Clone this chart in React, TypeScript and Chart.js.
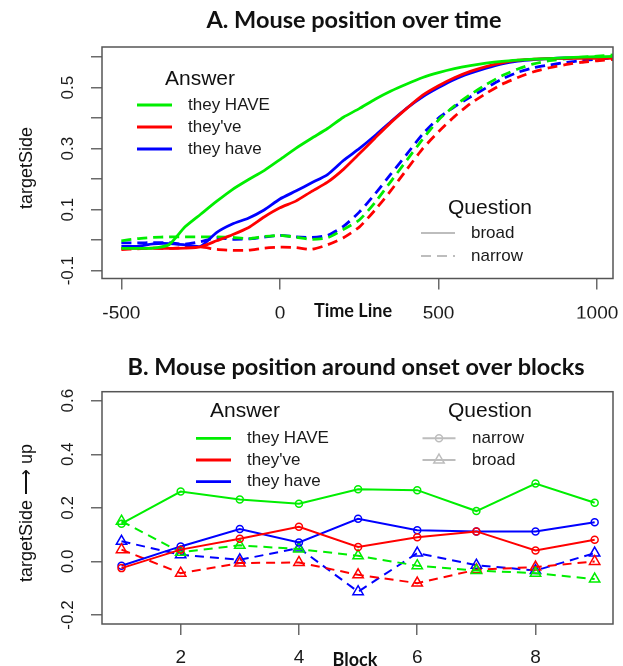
import { useEffect, useRef } from 'react';
import { Chart, registerables } from 'chart.js';

Chart.register(...registerables);

// ---------- Panel A data ----------
const timeMs = [-500, -450, -400, -350, -300, -250, -200, -150, -100, -50, 0, 50, 100, 150, 200, 250, 300, 350, 400, 450, 500, 550, 600, 650, 700, 750, 800, 850, 900, 950, 1000, 1050];
const haveBroadA = [-0.027, -0.027, -0.026, -0.015, 0.043, 0.085, 0.127, 0.166, 0.198, 0.228, 0.264, 0.301, 0.334, 0.366, 0.403, 0.431, 0.462, 0.489, 0.512, 0.533, 0.549, 0.562, 0.572, 0.58, 0.586, 0.59, 0.593, 0.595, 0.598, 0.6, 0.601, 0.602];
const contrBroadA = [-0.027, -0.027, -0.026, -0.027, -0.026, -0.022, -0.002, 0.018, 0.041, 0.076, 0.106, 0.128, 0.16, 0.19, 0.232, 0.283, 0.335, 0.386, 0.432, 0.475, 0.506, 0.532, 0.553, 0.569, 0.581, 0.59, 0.593, 0.595, 0.596, 0.596, 0.596, 0.596];
const plainBroadA = [-0.02, -0.02, -0.012, -0.011, -0.015, -0.02, 0.025, 0.053, 0.072, 0.099, 0.135, 0.161, 0.188, 0.215, 0.261, 0.3, 0.343, 0.389, 0.433, 0.47, 0.5, 0.527, 0.547, 0.564, 0.578, 0.587, 0.592, 0.595, 0.597, 0.598, 0.599, 0.599];
const haveNarrowA = [-0.002, 0.005, 0.009, 0.011, 0.011, 0.011, 0.011, 0.009, 0.005, 0.012, 0.016, 0.01, 0.003, 0.008, 0.035, 0.066, 0.124, 0.193, 0.262, 0.331, 0.394, 0.44, 0.477, 0.51, 0.539, 0.561, 0.578, 0.588, 0.594, 0.6, 0.603, 0.607];
const contrNarrowA = [-0.031, -0.028, -0.026, -0.027, -0.024, -0.022, -0.03, -0.033, -0.033, -0.026, -0.023, -0.024, -0.03, -0.015, 0.008, 0.043, 0.099, 0.163, 0.232, 0.3, 0.355, 0.405, 0.447, 0.481, 0.511, 0.533, 0.552, 0.565, 0.575, 0.583, 0.588, 0.592];
const plainNarrowA = [-0.009, -0.009, -0.008, -0.008, -0.013, -0.005, 0.008, 0.003, 0.004, 0.01, 0.016, 0.011, 0.009, 0.016, 0.045, 0.092, 0.152, 0.217, 0.282, 0.348, 0.4, 0.437, 0.469, 0.499, 0.528, 0.55, 0.565, 0.574, 0.582, 0.588, 0.593, 0.597];
const xTicksA = [-500, 0, 500, 1000];
const yTicksA = [-0.1, 0, 0.1, 0.2, 0.3, 0.4, 0.5, 0.6];
const yLabelledA = [-0.1, 0.1, 0.3, 0.5];

// ---------- Panel B data ----------
const blocks = [1, 2, 3, 4, 5, 6, 7, 8, 9];
const haveNarrowB = [0.141, 0.261, 0.231, 0.215, 0.269, 0.266, 0.188, 0.291, 0.219];
const contrNarrowB = [-0.025, 0.044, 0.085, 0.129, 0.054, 0.09, 0.112, 0.041, 0.081];
const plainNarrowB = [-0.016, 0.056, 0.121, 0.071, 0.159, 0.116, 0.112, 0.112, 0.146];
const haveBroadB = [0.15, 0.034, 0.06, 0.046, 0.021, -0.016, -0.034, -0.044, -0.066];
const contrBroadB = [0.044, -0.044, -0.006, -0.004, -0.05, -0.081, -0.031, -0.021, 0.0];
const plainBroadB = [0.075, 0.025, 0.006, 0.05, -0.113, 0.031, -0.014, -0.034, 0.031];
const xTicksB = [2, 4, 6, 8];
const yTicksB = [-0.2, 0, 0.2, 0.4, 0.6];

// ---------- labels ----------
const answerLabels = ['they HAVE', "they've", 'they have'];
const answerColors = ['#00ee00', '#ff0000', '#0000ff'];
const questionLabelsA = ['broad', 'narrow'];
const questionLabelsB = ['narrow', 'broad'];

const SANS = "'Liberation Sans', Arial, sans-serif";
const TITLE = "Lato, 'Open Sans', sans-serif";
const GREY = '#bdbdbd';

type TextItem = { text: string; x: number; y: number; font: string; align?: CanvasTextAlign; rotate?: boolean };
type LegendRow = { y: number; x1: number; x2: number; color: string; width: number; dash?: number[]; marker?: 'circle' | 'triangle'; label: string; tx: number };

function drawMarker(ctx: CanvasRenderingContext2D, kind: string, x: number, y: number) {
  ctx.beginPath();
  if (kind === 'circle') {
    ctx.arc(x, y, 3.5, 0, Math.PI * 2);
  } else {
    const r = 6;
    ctx.moveTo(x, y - r);
    ctx.lineTo(x + r * 0.866, y + r / 2);
    ctx.lineTo(x - r * 0.866, y + r / 2);
    ctx.closePath();
  }
  ctx.stroke();
}

function decor(texts: TextItem[], rows: LegendRow[]) {
  return {
    id: 'decor',
    afterDraw(chart: any) {
      const { ctx, chartArea: a } = chart;
      ctx.save();
      ctx.setLineDash([]);
      ctx.strokeStyle = '#555';
      ctx.lineWidth = 1.5;
      ctx.strokeRect(a.left, a.top, a.right - a.left, a.bottom - a.top);
      for (const r of rows) {
        ctx.strokeStyle = r.color;
        ctx.lineWidth = r.width;
        ctx.setLineDash(r.dash || []);
        ctx.beginPath();
        ctx.moveTo(r.x1, r.y);
        ctx.lineTo(r.x2, r.y);
        ctx.stroke();
        ctx.setLineDash([]);
        if (r.marker) {
          ctx.lineWidth = 1.5;
          drawMarker(ctx, r.marker, (r.x1 + r.x2) / 2, r.y);
        }
        ctx.fillStyle = '#1a1a1a';
        ctx.font = `17px ${SANS}`;
        ctx.textAlign = 'left';
        ctx.textBaseline = 'middle';
        ctx.fillText(r.label, r.tx, r.y);
      }
      for (const t of texts) {
        ctx.save();
        ctx.fillStyle = '#111';
        ctx.font = t.font;
        ctx.textAlign = t.align || 'center';
        ctx.textBaseline = 'middle';
        ctx.translate(t.x, t.y);
        if (t.rotate) ctx.rotate(-Math.PI / 2);
        ctx.fillText(t.text, 0, 0);
        ctx.restore();
      }
      ctx.restore();
    },
  };
}

function axisCommon(tickValues: number[], size: number, font: number, padding: number, cb: (v: number) => string, vertical: boolean) {
  return {
    type: 'linear' as const,
    afterBuildTicks: (s: any) => {
      s.ticks = tickValues.map((v) => ({ value: v }));
    },
    afterFit: (s: any) => {
      if (vertical) {
        s.width = size;
        s.paddingTop = 0;
        s.paddingBottom = 0;
      } else {
        s.height = size;
        s.paddingLeft = 0;
        s.paddingRight = 0;
      }
    },
    border: { display: false },
    grid: { display: true, drawOnChartArea: false, drawTicks: true, tickLength: 11, color: '#6a6a6a', lineWidth: 1.5 },
    ticks: {
      autoSkip: false,
      font: { family: SANS, size: font },
      color: '#1a1a1a',
      padding,
      callback: (v: any) => cb(Number(v)),
      ...(vertical ? { minRotation: 90, maxRotation: 90, crossAlign: 'center' as const } : { minRotation: 0, maxRotation: 0 }),
    },
  };
}

function buildTop(canvas: HTMLCanvasElement) {
  const series = [
    { data: haveBroadA, c: 0, dash: false },
    { data: contrBroadA, c: 1, dash: false },
    { data: plainBroadA, c: 2, dash: false },
    { data: haveNarrowA, c: 0, dash: true },
    { data: contrNarrowA, c: 1, dash: true },
    { data: plainNarrowA, c: 2, dash: true },
  ];
  const texts: TextItem[] = [
    { text: 'A. Mouse position over time', x: 354, y: 20, font: `bold 23.5px ${TITLE}` },
    { text: 'Time Line', x: 353, y: 311, font: `bold 18px ${TITLE}` },
    { text: 'targetSide', x: 27, y: 168, font: `18px ${SANS}`, rotate: true },
    { text: 'Answer', x: 200, y: 79, font: `21px ${SANS}` },
    { text: 'Question', x: 490, y: 208, font: `21px ${SANS}` },
  ];
  const rowsY = [105, 127, 149];
  const rows: LegendRow[] = answerLabels.map((l, i) => ({ y: rowsY[i], x1: 137, x2: 172, color: answerColors[i], width: 2.8, label: l, tx: 188 }));
  rows.push({ y: 233, x1: 421, x2: 455, color: GREY, width: 2, label: questionLabelsA[0], tx: 471 });
  rows.push({ y: 256, x1: 421, x2: 455, color: GREY, width: 2, dash: [10, 6], label: questionLabelsA[1], tx: 471 });

  return new Chart(canvas, {
    type: 'line',
    data: {
      datasets: series.map((s) => ({
        data: timeMs.map((t, i) => ({ x: t, y: s.data[i] })),
        borderColor: answerColors[s.c],
        borderWidth: 2.8,
        borderDash: s.dash ? [10, 6] : [],
        pointRadius: 0,
        tension: 0.2,
        fill: false,
      })),
    },
    options: {
      animation: false,
      responsive: false,
      devicePixelRatio: 1,
      layout: { autoPadding: false, padding: { top: 47, right: 10, left: 0, bottom: 16.5 } },
      plugins: { legend: { display: false }, tooltip: { enabled: false }, title: { display: false } },
      scales: {
        x: { ...axisCommon(xTicksA, 40, 19, 13, (v) => String(v), false), min: -561, max: 1050 },
        y: { ...axisCommon(yTicksA, 102, 17, 8, (v) => (yLabelledA.includes(v) ? v.toFixed(1) : ''), true), min: -0.1255, max: 0.633 },
      },
    } as any,
    plugins: [decor(texts, rows)],
  });
}

function buildBottom(canvas: HTMLCanvasElement) {
  const series = [
    { data: haveNarrowB, c: 0, dash: false },
    { data: contrNarrowB, c: 1, dash: false },
    { data: plainNarrowB, c: 2, dash: false },
    { data: haveBroadB, c: 0, dash: true },
    { data: contrBroadB, c: 1, dash: true },
    { data: plainBroadB, c: 2, dash: true },
  ];
  const texts: TextItem[] = [
    { text: 'B. Mouse position around onset over blocks', x: 356, y: 32.3, font: `bold 23.5px ${TITLE}` },
    { text: 'Block', x: 355, y: 325, font: `bold 18px ${TITLE}` },
    { text: 'targetSide \u27F6 up', x: 27, y: 178, font: `18px ${SANS}`, rotate: true },
    { text: 'Answer', x: 245, y: 76.7, font: `21px ${SANS}` },
    { text: 'Question', x: 490, y: 76.7, font: `21px ${SANS}` },
  ];
  const rowsY = [103.3, 125, 146.7];
  const rows: LegendRow[] = answerLabels.map((l, i) => ({ y: rowsY[i], x1: 196, x2: 231, color: answerColors[i], width: 2.8, label: l, tx: 247 }));
  rows.push({ y: 103.3, x1: 422.5, x2: 455.5, color: GREY, width: 2, marker: 'circle', label: questionLabelsB[0], tx: 472 });
  rows.push({ y: 125, x1: 422.5, x2: 455.5, color: GREY, width: 2, marker: 'triangle', label: questionLabelsB[1], tx: 472 });

  return new Chart(canvas, {
    type: 'line',
    data: {
      datasets: series.map((s) => ({
        data: blocks.map((b, i) => ({ x: b, y: s.data[i] })),
        borderColor: answerColors[s.c],
        borderWidth: 2,
        borderDash: s.dash ? [9, 6] : [],
        pointStyle: s.dash ? 'triangle' : 'circle',
        pointRadius: s.dash ? 6 : 3.5,
        pointBorderWidth: 1.5,
        pointBorderColor: answerColors[s.c],
        pointBackgroundColor: 'rgba(0,0,0,0)',
        tension: 0,
        fill: false,
      })),
    },
    options: {
      animation: false,
      responsive: false,
      devicePixelRatio: 1,
      layout: { autoPadding: false, padding: { top: 56.7, right: 10, left: 0, bottom: 2 } },
      plugins: { legend: { display: false }, tooltip: { enabled: false }, title: { display: false } },
      scales: {
        x: { ...axisCommon(xTicksB, 40, 19, 11, (v) => String(v), false), min: 0.67, max: 9.31 },
        y: { ...axisCommon(yTicksB, 102, 17, 8, (v) => v.toFixed(1), true), min: -0.2336, max: 0.6336 },
      },
    } as any,
    plugins: [decor(texts, rows)],
  });
}

export default function App() {
  const topRef = useRef<HTMLCanvasElement>(null);
  const botRef = useRef<HTMLCanvasElement>(null);
  useEffect(() => {
    const a = buildTop(topRef.current!);
    const b = buildBottom(botRef.current!);
    return () => {
      a.destroy();
      b.destroy();
    };
  }, []);
  return (
    <div style={{ position: 'absolute', left: 0, top: 0, width: 623, height: 666, background: '#fff' }}>
      <canvas ref={topRef} width={623} height={335} style={{ position: 'absolute', left: 0, top: 0, width: 623, height: 335 }} />
      <canvas ref={botRef} width={623} height={331} style={{ position: 'absolute', left: 0, top: 335, width: 623, height: 331 }} />
    </div>
  );
}
